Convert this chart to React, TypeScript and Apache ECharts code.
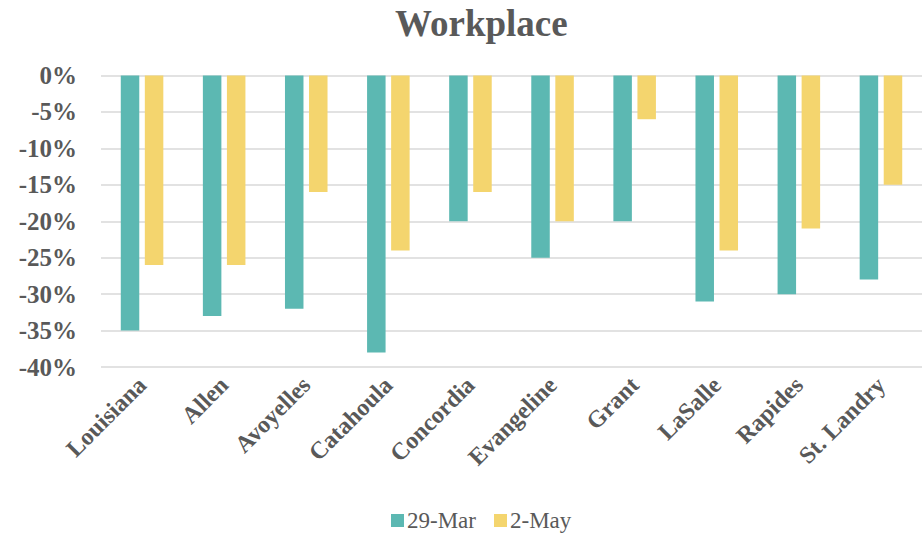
import React, { useEffect, useRef } from "react";
import * as echarts from "echarts";

const categories = ["Louisiana", "Allen", "Avoyelles", "Catahoula", "Concordia", "Evangeline", "Grant", "LaSalle", "Rapides", "St. Landry"];
const mar29 = [-35, -33, -32, -38, -20, -25, -20, -31, -30, -28];
const may2 = [-26, -26, -16, -24, -16, -20, -6, -24, -21, -15];
const seriesNames = ["29-Mar", "2-May"];
const titleText = "Workplace";

const FONT = "'Liberation Serif', 'Times New Roman', serif";
const GREY = "#595959";

export default function App() {
  const ref = useRef<HTMLDivElement>(null);
  useEffect(() => {
    if (!ref.current) return;
    const chart = echarts.init(ref.current, null, { renderer: "svg" });
    chart.setOption({
      animation: false,
      backgroundColor: "#ffffff",
      title: {
        text: titleText,
        left: 390,
        top: 0,
        textStyle: { fontFamily: FONT, fontSize: 37, fontWeight: "bold", color: GREY },
      },
      legend: {
        data: seriesNames,
        left: 386,
        top: 504,
        itemWidth: 13,
        itemHeight: 13,
        itemGap: 18,
        icon: "rect",
        textStyle: { fontFamily: FONT, fontSize: 23, color: GREY, padding: [0, 0, 0, -2] },
      },
      grid: { left: 101, right: 0, top: 75.5, bottom: 166, containLabel: false },
      xAxis: {
        type: "category",
        data: categories,
        axisLine: { show: false, onZero: false },
        axisTick: { show: false },
        splitLine: { show: false },
        axisLabel: {
          rotate: 45,
          margin: 14,
          interval: 0,
          fontFamily: FONT,
          fontSize: 24,
          fontWeight: "bold",
          color: GREY,
        },
      },
      yAxis: {
        type: "value",
        min: -40,
        max: 0,
        interval: 5,
        axisLine: { show: false },
        axisTick: { show: false },
        splitLine: { lineStyle: { color: "#d9d9d9", width: 1.5 } },
        axisLabel: {
          formatter: (v: number) => `${v}%`,
          margin: 24,
          fontFamily: FONT,
          fontSize: 25,
          fontWeight: "bold",
          color: GREY,
        },
      },
      series: [
        {
          name: seriesNames[0],
          type: "bar",
          data: mar29,
          barWidth: 18.5,
          barGap: "30%",
          itemStyle: { color: "#5cb8b2" },
        },
        {
          name: seriesNames[1],
          type: "bar",
          data: may2,
          barWidth: 18.5,
          barGap: "30%",
          itemStyle: { color: "#f4d56e" },
        },
      ],
    });
    return () => chart.dispose();
  }, []);
  return (
    <div
      ref={ref}
      style={{ position: "absolute", left: 0, top: 0, width: 922, height: 533 }}
    />
  );
}
